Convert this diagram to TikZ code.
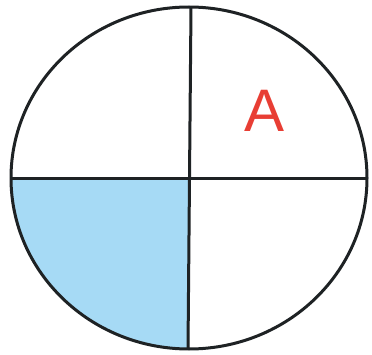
\documentclass[tikz,border=0pt]{standalone}
\usepackage{fontspec}
\setmainfont{Liberation Sans}
\definecolor{skyfill}{RGB}{166,218,245}
\definecolor{linecol}{RGB}{30,34,36}
\definecolor{labelred}{RGB}{232,62,52}
\tikzset{
  outline/.style={draw=linecol, line width=3pt},
  divider/.style={draw=linecol, line width=3pt},
}
\begin{document}
\begin{tikzpicture}[x=1pt,y=1pt]
\useasboundingbox (0,0) rectangle (372,354);
\coordinate (O) at (189,176);
\coordinate (L) at (11,176);
\coordinate (R) at (367,176);
\coordinate (T) at (191,347);
\coordinate (B) at (188,5);
% shaded lower-left quarter
\fill[skyfill] (O) -- (L) arc[start angle=180, end angle=270, x radius=178, y radius=171] -- cycle;
% dividers
\draw[divider] (L) -- (R);
\draw[divider] (T) -- (B);
% outline
\draw[outline] (O) ellipse[x radius=178, y radius=171];
% label
\node[text=labelred, font=\fontsize{60}{60}\selectfont, inner sep=0pt] (lab) at (265,243) {A};
\end{tikzpicture}
\end{document}
